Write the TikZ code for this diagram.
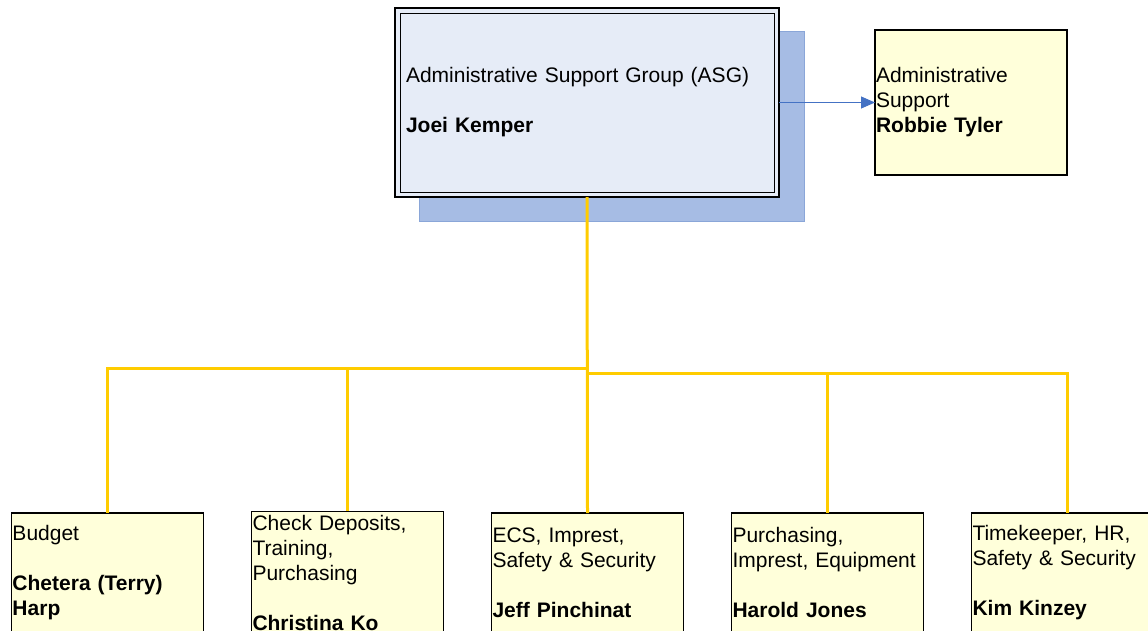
\documentclass[tikz,border=0pt]{standalone}
\usepackage{fontspec}
\setmainfont{Liberation Sans}
\usetikzlibrary{arrows.meta,positioning}
\definecolor{asgfill}{HTML}{E6ECF7}
\definecolor{dropfill}{HTML}{A6BCE4}
\definecolor{dropline}{HTML}{8AA6D8}
\definecolor{memo}{HTML}{FFFFDA}
\definecolor{gold}{HTML}{FFCC00}
\definecolor{link}{HTML}{4472C4}

\begin{document}
\begin{tikzpicture}[
  x=1pt,y=-1pt,
  font=\fontsize{21}{25}\selectfont,
  node distance=48pt,
  head/.style={draw=black,line width=2pt,fill=asgfill,minimum width=384pt,minimum height=189pt,text width=362pt,inner xsep=11pt,outer sep=0pt,align=left,anchor=north west},
  unit/.style={draw=black,line width=1.2pt,fill=memo,minimum width=192pt,minimum height=119pt,text width=190pt,inner xsep=1pt,outer sep=0pt,align=left,anchor=north west},
  feed/.style={gold,line width=3pt},
  arr/.style={-{Triangle[length=14pt,width=12pt]},link,line width=1pt}
]
\useasboundingbox (0,0) rectangle (1148,630);
\clip (0,0) rectangle (1148,630);
% shadow behind the group box
\filldraw[fill=dropfill,draw=dropline] (419,31) rectangle (804,221);
\node[head] (asg) at (395,8) {Administrative Support Group (ASG)\\[25pt]\textbf{Joei Kemper}};
\draw[line width=1pt] ([shift={(5pt,-5pt)}]asg.north west) rectangle ([shift={(-5pt,5pt)}]asg.south east);
\node[unit,minimum height=145pt] (aide) at (875,30) {Administrative\\Support\\\textbf{Robbie Tyler}};
\node[unit] (budget) at (11.5,513) {Budget\\[25pt]\textbf{Chetera (Terry)}\\\textbf{Harp}};
\node[unit,right=of budget] (deposits) {Check Deposits,\\Training,\\Purchasing\\[25pt]\textbf{Christina Ko}};
\node[unit,right=of deposits] (ecs) {ECS, Imprest,\\Safety \& Security\\[25pt]\textbf{Jeff Pinchinat}};
\node[unit,right=of ecs] (purchasing) {Purchasing,\\Imprest, Equipment\\[25pt]\textbf{Harold Jones}};
\node[unit,right=of purchasing] (timekeeper) {Timekeeper, HR,\\Safety \& Security\\[25pt]\textbf{Kim Kinzey}};
% bus lines
\coordinate (busL) at (587,368);
\coordinate (busR) at (587,373);
\draw[feed] (asg.south) -- (ecs.north);
\draw[feed] (busL) -| (budget.north);
\draw[feed] (busL) -| (deposits.north);
\draw[feed] (busR) -| (purchasing.north);
\draw[feed] (busR) -| (timekeeper.north);
\draw[arr] (asg.east) -- (aide.west);
\end{tikzpicture}
\end{document}
